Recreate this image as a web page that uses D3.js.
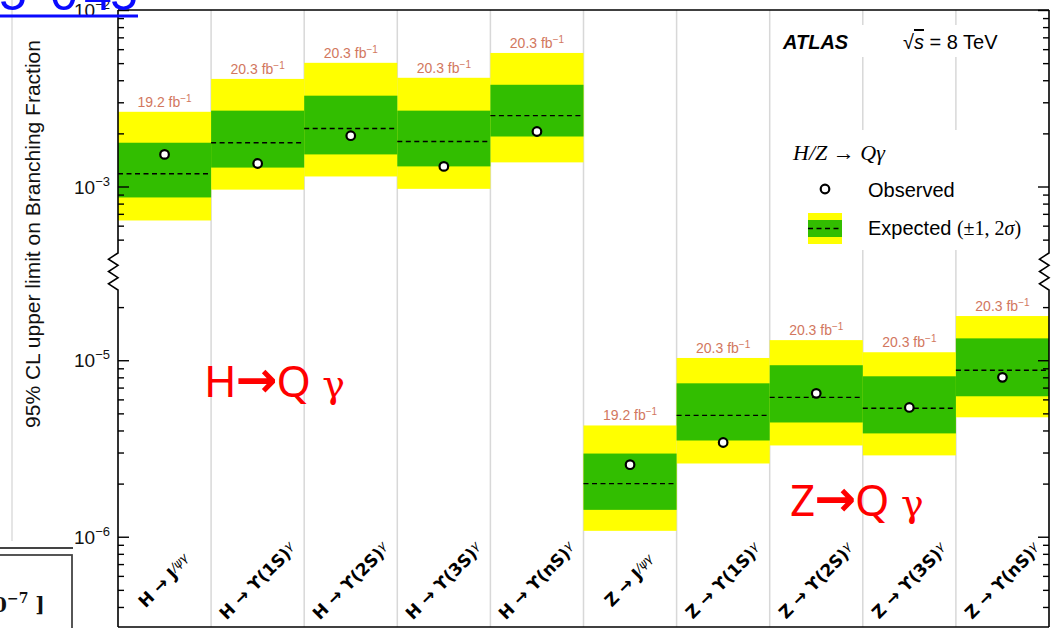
<!DOCTYPE html>
<html><head><meta charset="utf-8">
<script src="https://cdn.jsdelivr.net/npm/d3@7"></script>
<style>body{margin:0;background:#fff}svg{display:block}</style>
</head><body>
<svg id="c" width="1052" height="628"></svg>
<script>
// ---------------- data ----------------
const parents    = ["H","H","H","H","H","Z","Z","Z","Z","Z"];
const mesonMain  = ["J","ϒ(1S)","ϒ(2S)","ϒ(3S)","ϒ(nS)","J","ϒ(1S)","ϒ(2S)","ϒ(3S)","ϒ(nS)"];
const mesonSmall = ["/ψγ","γ","γ","γ","γ","/ψγ","γ","γ","γ","γ"];
const lumi       = ["19.2","20.3","20.3","20.3","20.3","19.2","20.3","20.3","20.3","20.3"];
const observed   = [1.52e-3,1.35e-3,1.94e-3,1.30e-3,2.05e-3, 2.56e-6,3.42e-6,6.49e-6,5.40e-6,8.00e-6];
const expected   = [1.18e-3,1.77e-3,2.13e-3,1.80e-3,2.52e-3, 2.00e-6,4.87e-6,6.16e-6,5.34e-6,8.78e-6];
const minus1     = [0.867e-3,1.28e-3,1.52e-3,1.30e-3,1.92e-3, 1.42e-6,3.51e-6,4.44e-6,3.85e-6,6.25e-6];
const plus1      = [1.77e-3,2.69e-3,3.27e-3,2.69e-3,3.77e-3, 2.96e-6,7.40e-6,9.37e-6,8.11e-6,1.33e-5];
const minus2     = [0.642e-3,0.96e-3,1.14e-3,0.97e-3,1.37e-3, 1.08e-6,2.60e-6,3.29e-6,2.89e-6,4.75e-6];
const plus2      = [2.65e-3,4.07e-3,5.02e-3,4.13e-3,5.71e-3, 4.27e-6,1.03e-5,1.30e-5,1.11e-5,1.78e-5];
const upperDomain = [1e-2, 4.2e-4];
const lowerDomain = [2.5e-5, 3.08e-7];
const upperMajor = [1e-2, 1e-3], upperExp = ["−2","−3"];
const lowerMajor = [1e-5, 1e-6], lowerExp = ["−5","−6"];

// ---------------- layout ----------------
const svg = d3.select("#c");
const xL = 118, xR = 1049, yT = 10, yB = 627, brkTop = 253, brkBot = 290;
const upper = d3.scaleLog().domain(upperDomain).range([yT, brkTop]);
const lower = d3.scaleLog().domain(lowerDomain).range([brkBot, yB]);
const x = d3.scaleBand().domain(d3.range(parents.length)).range([xL, xR]).padding(0);
const yOf = (i, v) => parents[i] === "H" ? upper(v) : lower(v);
const GREEN = "#32be00", YELLOW = "#ffff00";

svg.append("rect").attr("width",1052).attr("height",628).attr("fill","#fff");
svg.append("line").attr("x1",12).attr("x2",12).attr("y1",0).attr("y2",541).attr("stroke","#dcdcdc").attr("stroke-width",1.5);

// gridlines
svg.append("g").selectAll("line").data(d3.range(1, parents.length)).join("line")
  .attr("x1", d => x(d)).attr("x2", d => x(d)).attr("y1", yT).attr("y2", yB)
  .attr("stroke", "#d8d8d8").attr("stroke-width", 1.5);

svg.append("rect").attr("x",773).attr("y",25).attr("width",268).attr("height",32).attr("fill","#fff");
svg.append("rect").attr("x",773).attr("y",130).attr("width",268).attr("height",120).attr("fill","#fff");

const idx = d3.range(parents.length);
const bands = svg.append("g");
bands.selectAll("rect.y2").data(idx).join("rect").attr("class","y2")
  .attr("x", i => x(i)).attr("width", x.bandwidth())
  .attr("y", i => yOf(i, plus2[i])).attr("height", i => yOf(i, minus2[i]) - yOf(i, plus2[i]))
  .attr("fill", YELLOW);
bands.selectAll("rect.g1").data(idx).join("rect").attr("class","g1")
  .attr("x", i => x(i)).attr("width", x.bandwidth())
  .attr("y", i => yOf(i, plus1[i])).attr("height", i => yOf(i, minus1[i]) - yOf(i, plus1[i]))
  .attr("fill", GREEN);
bands.selectAll("line.med").data(idx).join("line").attr("class","med")
  .attr("x1", i => x(i)).attr("x2", i => x(i) + x.bandwidth())
  .attr("y1", i => yOf(i, expected[i])).attr("y2", i => yOf(i, expected[i]))
  .attr("stroke","#000").attr("stroke-width",1.4).attr("stroke-dasharray","5,3.5");
bands.selectAll("circle").data(idx).join("circle")
  .attr("cx", i => x(i) + x.bandwidth()/2).attr("cy", i => yOf(i, observed[i]))
  .attr("r", 4.3).attr("fill","#fff").attr("stroke","#000").attr("stroke-width",2.2);

// luminosity labels
const lt = svg.append("g").selectAll("text").data(idx).join("text")
  .attr("x", i => x(i) + x.bandwidth()/2).attr("y", i => yOf(i, plus2[i]) - 5)
  .attr("text-anchor","middle").attr("fill","#d2775e")
  .style("font-family","Liberation Sans, Arial, sans-serif").style("font-size","14px");
lt.append("tspan").text(i => lumi[i] + " fb");
lt.append("tspan").attr("dy",-5).style("font-size","10px").text("−1");

// axes ticks (inward)
function tickAxis(scale, axisFn, xpos, vals, size) {
  svg.append("g").attr("transform", `translate(${xpos},0)`)
    .call(axisFn(scale).tickValues(vals).tickSize(size).tickFormat(""))
    .call(g => { g.select(".domain").remove(); g.selectAll("line").attr("stroke","#000").attr("stroke-width",1.4); });
}
[[upper, upperMajor], [lower, lowerMajor]].forEach(([s, maj]) => {
  const minor = s.ticks().filter(v => !maj.some(m => Math.abs(m - v) / m < 1e-6));
  tickAxis(s, d3.axisLeft, xL, minor, -6);
  tickAxis(s, d3.axisLeft, xL, maj, -11);
  tickAxis(s, d3.axisRight, xR, minor, -6);
  tickAxis(s, d3.axisRight, xR, maj, -11);
});

function axisPath(x0) {
  const a = brkTop, b = brkBot, step = (b - a) / 6;
  const pts = [[x0, yT], [x0, a]];
  for (let k = 1; k <= 6; k++) pts.push([k % 2 ? x0 - 9.5 : x0, a + k * step]);
  pts.push([x0, b]); pts.push([x0, yB]);
  return d3.line()(pts);
}
svg.append("path").attr("d", axisPath(xL)).attr("fill","none").attr("stroke","#000").attr("stroke-width",1.6);
svg.append("path").attr("d", axisPath(xR)).attr("fill","none").attr("stroke","#000").attr("stroke-width",1.6);
svg.append("line").attr("x1",xL).attr("x2",xR).attr("y1",yT).attr("y2",yT).attr("stroke","#000").attr("stroke-width",1.6);
svg.append("line").attr("x1",xL).attr("x2",xR).attr("y1",yB).attr("y2",yB).attr("stroke","#000").attr("stroke-width",1.6);

// y tick labels
function yLabels(scale, vals, exps) {
  vals.forEach((v, k) => {
    const t = svg.append("text").attr("x", 110).attr("y", scale(v) + 7).attr("text-anchor","end")
      .style("font-family","Liberation Sans, Arial, sans-serif").style("font-size","19px").attr("fill","#111");
    t.append("tspan").text("10");
    t.append("tspan").attr("dy",-8).style("font-size","13px").text(exps[k]);
  });
}
yLabels(upper, upperMajor, upperExp);
yLabels(lower, lowerMajor, lowerExp);

// y title
svg.append("text").attr("transform","translate(40,234) rotate(-90)").attr("text-anchor","middle")
  .style("font-family","Liberation Sans, Arial, sans-serif").style("font-size","21px").attr("fill","#111")
  .text("95% CL upper limit on Branching Fraction");

// x category labels
const xl = svg.append("g").selectAll("text").data(idx).join("text")
  .attr("transform", i => `translate(${x(i) + x.bandwidth()/2},581) rotate(-45)`)
  .attr("text-anchor","middle").attr("dy","0.35em")
  .style("font-family","DejaVu Sans, Verdana, sans-serif").style("font-weight","bold").style("font-size","17px").attr("fill","#000");
xl.append("tspan").text(i => parents[i] + " → " + mesonMain[i]);
xl.append("tspan").attr("dy",-5).style("font-size","12px").style("font-style","italic").style("font-weight","normal").text(i => mesonSmall[i]);

// ATLAS labels
svg.append("text").attr("x",783).attr("y",49).style("font-family","Liberation Sans, Arial, sans-serif")
  .style("font-size","20px").style("font-weight","bold").style("font-style","italic").text("ATLAS");
const rs = svg.append("text").attr("x",903).attr("y",49).style("font-family","Liberation Sans, Arial, sans-serif").style("font-size","20px");
rs.append("tspan").text("√");
rs.append("tspan").style("font-style","italic").style("text-decoration","overline").text("s");
rs.append("tspan").text(" = 8 TeV");

// legend
const lh = svg.append("text").attr("x",793).attr("y",160).style("font-family","Liberation Serif, Times, serif").style("font-size","22px");
lh.append("tspan").style("font-style","italic").text("H/Z");
lh.append("tspan").text(" → ");
lh.append("tspan").style("font-style","italic").text("Qγ");
svg.append("circle").attr("cx",825).attr("cy",189).attr("r",4.3).attr("fill","#fff").attr("stroke","#000").attr("stroke-width",2.2);
svg.append("text").attr("x",868).attr("y",197).style("font-family","Liberation Sans, Arial, sans-serif").style("font-size","20px").text("Observed");
svg.append("rect").attr("x",808).attr("y",213).attr("width",34).attr("height",31).attr("fill",YELLOW);
svg.append("rect").attr("x",808).attr("y",220).attr("width",34).attr("height",17).attr("fill",GREEN);
svg.append("line").attr("x1",808).attr("x2",842).attr("y1",228.5).attr("y2",228.5).attr("stroke","#000").attr("stroke-width",1.4).attr("stroke-dasharray","5,3.5");
const le = svg.append("text").attr("x",868).attr("y",235).style("font-size","20px");
le.append("tspan").style("font-family","Liberation Sans, Arial, sans-serif").text("Expected ");
le.append("tspan").style("font-family","Liberation Serif, Times, serif").text("(±1, 2");
le.append("tspan").style("font-family","Liberation Serif, Times, serif").style("font-style","italic").text("σ");
le.append("tspan").style("font-family","Liberation Serif, Times, serif").text(")");

// red annotations
function redLabel(xp, yp, letter) {
  const t = svg.append("text").attr("x", xp).attr("y", yp).attr("fill","#ff0000").style("font-size","44px")
    .style("font-family","Noto Sans, Open Sans, sans-serif");
  t.append("tspan").text(letter);
  t.append("tspan").attr("dx",-1).style("font-family","DejaVu Sans").style("font-weight","bold").style("font-size","50px").text("→");
  t.append("tspan").attr("dx",-1).text("Q ");
  t.append("tspan").style("font-family","DejaVu Serif, serif").style("font-size","38px").text("γ");
}
redLabel(204, 397, "H");
redLabel(790, 516, "Z");

// overlay artifacts (edges of neighbouring content)
const bt = svg.append("text").attr("y",10).attr("fill","#0a0aff").style("font-family","Liberation Sans, Arial, sans-serif").style("font-size","50px");
bt.append("tspan").attr("x",-1).text("5");
bt.append("tspan").attr("x",50).text("0");
bt.append("tspan").attr("x",84).text("4");
bt.append("tspan").attr("x",110).text("5");
svg.append("line").attr("x1",0).attr("x2",138).attr("y1",16).attr("y2",16).attr("stroke","#0a0aff").attr("stroke-width",3);

svg.append("rect").attr("x",-2).attr("y",555).attr("width",74).attr("height",80).attr("fill","#fff").attr("stroke","#444").attr("stroke-width",1.8);
svg.append("line").attr("x1",0).attr("x2",73).attr("y1",548).attr("y2",548).attr("stroke","#444").attr("stroke-width",1.8);
const bx = svg.append("text").attr("x",-7).attr("y",612).attr("fill","#111").style("font-family","DejaVu Serif, serif").style("font-weight","bold").style("font-size","20px");
bx.append("tspan").text("0");
bx.append("tspan").attr("dy",-9).style("font-size","14px").text("−7");
bx.append("tspan").attr("dy",9).text(" ]");
</script>
</body></html>
